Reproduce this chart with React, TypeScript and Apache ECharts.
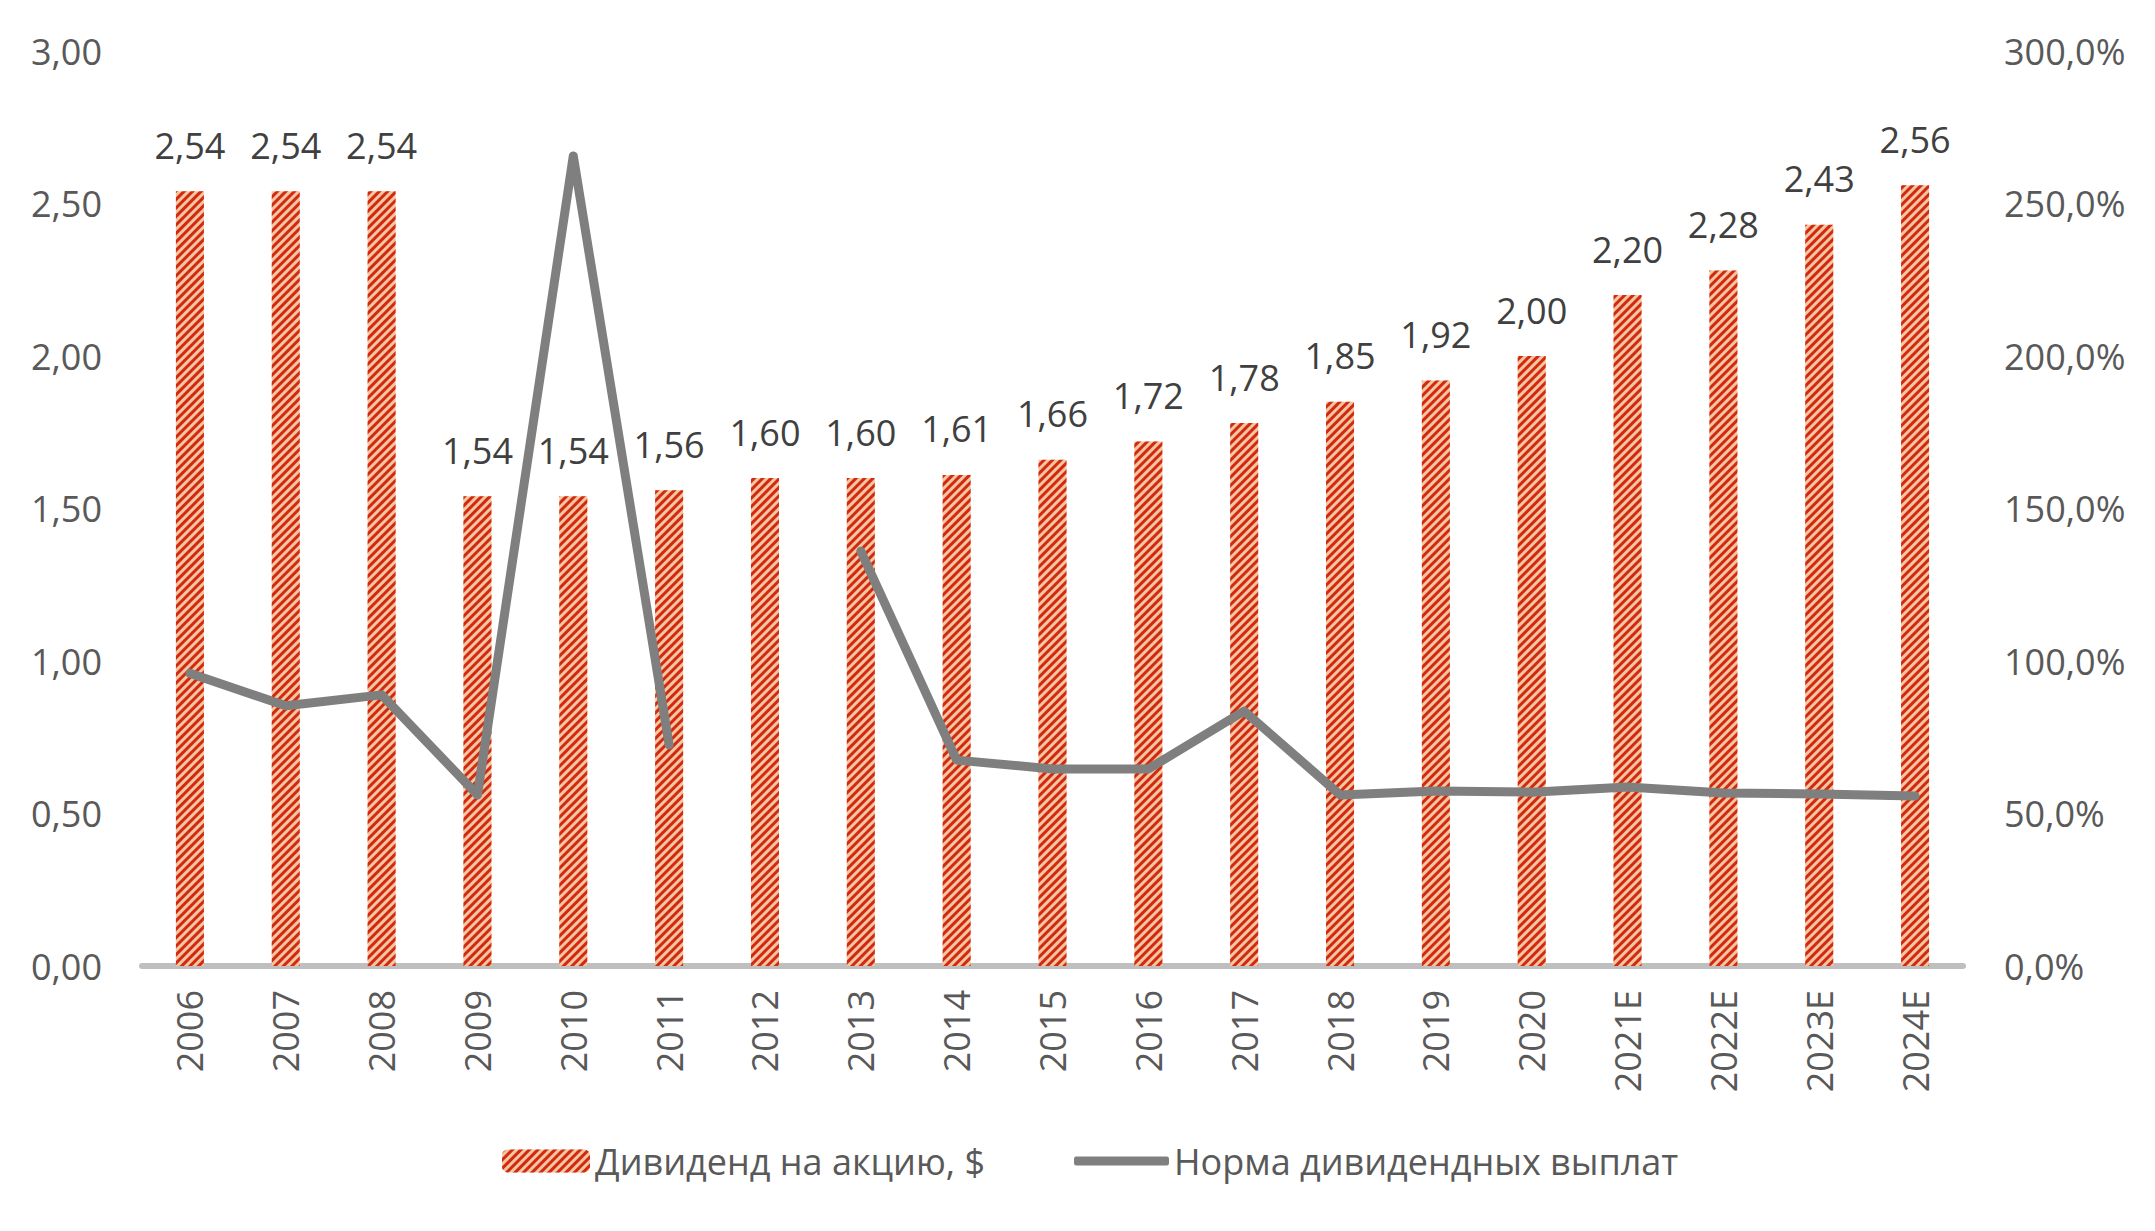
import React, { useEffect, useRef } from "react";
import * as echarts from "echarts";

const categories = ["2006", "2007", "2008", "2009", "2010", "2011", "2012", "2013", "2014", "2015", "2016", "2017", "2018", "2019", "2020", "2021E", "2022E", "2023E", "2024E"];
const dividends = [2.54, 2.54, 2.54, 1.54, 1.54, 1.56, 1.6, 1.6, 1.61, 1.66, 1.72, 1.78, 1.85, 1.92, 2.0, 2.2, 2.28, 2.43, 2.56];
const payoutRatio: (number | null)[] = [96.0, 85.3, 88.9, 56.1, 265.6, 72.5, null, 136.0, 67.5, 64.6, 64.6, 83.6, 56.1, 57.4, 57.0, 58.7, 56.7, 56.4, 55.7];
const seriesNames = ["Дивиденд на акцию, $", "Норма дивидендных выплат"];

const FONT = "'Open Sans', 'Noto Sans', sans-serif";
const RED = "#D22A0E";
const PEACH = "#F3C5A3";
const GREY = "#7F7F7F";
const FS = 36;

export default function App() {
  const ref = useRef<HTMLDivElement>(null);
  useEffect(() => {
    if (!ref.current) return;
    const chart = echarts.init(ref.current, undefined, { renderer: "svg" });
    chart.setOption({
      animation: false,
      backgroundColor: "#fff",
      textStyle: { fontFamily: FONT },
      grid: { left: 142, right: 192, top: 51, bottom: 265 },
      legend: [
        {
          top: 1138,
          left: 497,
          itemWidth: 88,
          itemHeight: 23,
          textStyle: { fontFamily: FONT, fontSize: FS, color: "#595959" },
          data: [seriesNames[0]],
        },
        {
          top: 1138,
          left: 1069,
          itemWidth: 95,
          itemHeight: 9,
          icon: "roundRect",
          textStyle: { fontFamily: FONT, fontSize: FS, color: "#595959" },
          data: [{ name: seriesNames[1], itemStyle: { color: GREY } }],
        },
      ],
      xAxis: {
        type: "category",
        data: categories,
        axisLine: { show: true, lineStyle: { color: "#BFBFBF", width: 6 } },
        axisTick: { show: false },
        axisLabel: { rotate: 90, margin: 24, fontSize: FS, color: "#595959", fontFamily: FONT },
      },
      yAxis: [
        {
          type: "value",
          min: 0,
          max: 3,
          interval: 0.5,
          splitLine: { show: false },
          axisLine: { show: false },
          axisTick: { show: false },
          axisLabel: {
            margin: 40,
            fontSize: FS,
            color: "#595959",
            fontFamily: FONT,
            formatter: (v: number) => v.toFixed(2).replace(".", ","),
          },
        },
        {
          type: "value",
          min: 0,
          max: 300,
          interval: 50,
          splitLine: { show: false },
          axisLine: { show: false },
          axisTick: { show: false },
          axisLabel: {
            margin: 41,
            fontSize: FS,
            color: "#595959",
            fontFamily: FONT,
            formatter: (v: number) => v.toFixed(1).replace(".", ",") + "%",
          },
        },
      ],
      series: [
        {
          name: seriesNames[0],
          type: "bar",
          data: dividends,
          barWidth: 28,
          itemStyle: {
            color: PEACH,
            decal: {
              symbol: "rect",
              symbolSize: 1,
              color: RED,
              dashArrayX: [1, 0],
              dashArrayY: [3, 2.5],
              rotation: -Math.PI / 4,
            },
          },
          label: {
            show: true,
            position: "top",
            distance: 28,
            fontSize: FS,
            color: "#404040",
            fontFamily: FONT,
            formatter: (p: any) => Number(p.value).toFixed(2).replace(".", ","),
          },
          z: 1,
        },
        {
          name: seriesNames[1],
          type: "line",
          yAxisIndex: 1,
          data: payoutRatio,
          connectNulls: false,
          symbol: "none",
          showSymbol: false,
          lineStyle: { color: GREY, width: 9, cap: "round", join: "round" },
          itemStyle: { color: GREY },
          z: 3,
        },
      ],
    });
    return () => chart.dispose();
  }, []);
  return <div ref={ref} style={{ position: "fixed", left: 0, top: 0, width: 2155, height: 1231 }} />;
}
